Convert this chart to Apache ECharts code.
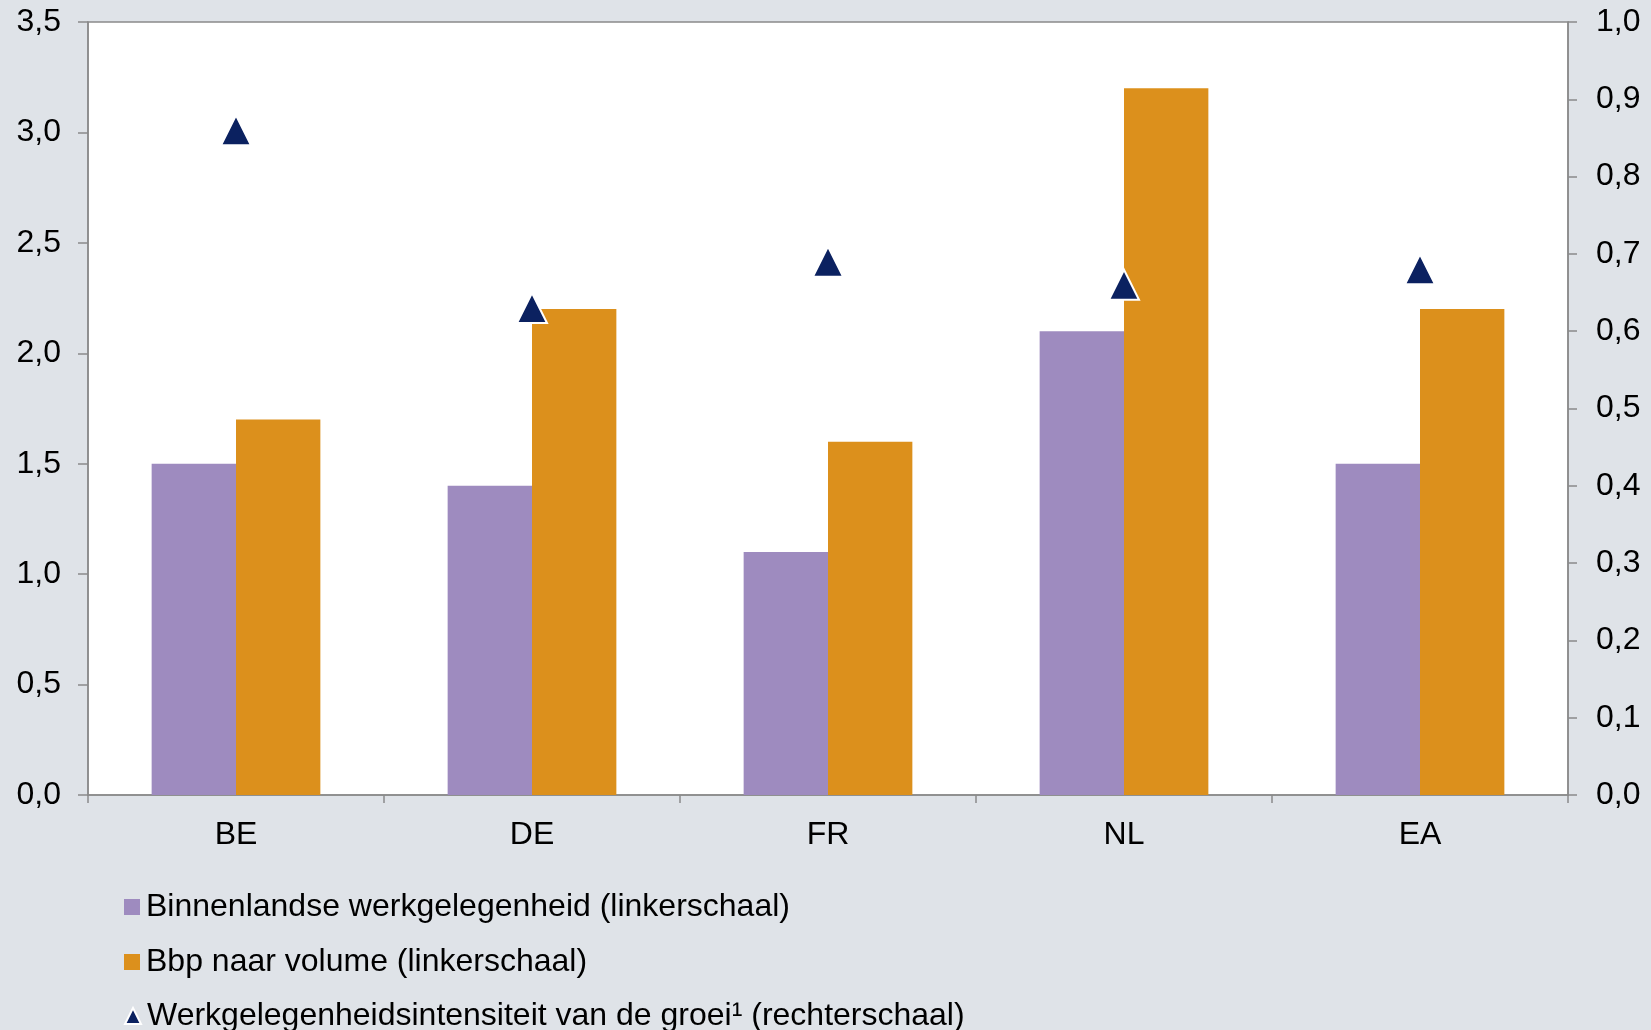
<!DOCTYPE html>
<html>
<head>
<meta charset="utf-8">
<script src="https://cdn.jsdelivr.net/npm/echarts@6/dist/echarts.min.js"></script>
<style>
  html, body { margin: 0; padding: 0; background: #dfe3e8; }
  #chart { width: 1651px; height: 1030px; }
</style>
</head>
<body>
<div id="chart"></div>
<script>
// Countries on the category axis
const categories = ['BE', 'DE', 'FR', 'NL', 'EA'];

// Left scale (%): domestic employment and GDP volume growth
const werkgelegenheid = [1.5, 1.4, 1.1, 2.1, 1.5];
const bbpVolume = [1.7, 2.2, 1.6, 3.2, 2.2];

// Right scale: employment intensity of growth
const intensiteit = [0.86, 0.63, 0.69, 0.66, 0.68];

// Series names shown in the legend
const seriesNames = [
  'Binnenlandse werkgelegenheid (linkerschaal)',
  'Bbp naar volume (linkerschaal)',
  'Werkgelegenheidsintensiteit van de groei\u00b9 (rechterschaal)'
];
const legendIcons = ['rect', 'rect', 'triangle'];

const axisGray = '#8a8a8a';
const fontFamily = 'Liberation Sans, Arial, sans-serif';
const commaFmt = v => v.toFixed(1).replace('.', ',');

// One legend block per row so the three entries stack in a single column
const legendTops = [891, 946, 1000];
const legends = seriesNames.map((name, i) => ({
  orient: 'vertical',
  left: 124, top: legendTops[i],
  itemWidth: 16, itemHeight: 16,
  padding: 0,
  textStyle: { fontSize: 32, color: '#000', fontFamily: fontFamily, padding: [0, 0, 0, 1] },
  data: [{ name: name, icon: legendIcons[i] }]
}));

const chart = echarts.init(document.getElementById('chart'));
chart.setOption({
  backgroundColor: '#dfe3e8',
  animation: false,
  textStyle: { fontFamily: fontFamily, color: '#000' },
  grid: {
    left: 88, right: 83, top: 22, bottom: 235,
    show: true, backgroundColor: '#ffffff',
    borderColor: axisGray, borderWidth: 1.5
  },
  legend: legends,
  xAxis: {
    type: 'category',
    data: categories,
    axisLine: { lineStyle: { color: axisGray, width: 1.5 } },
    axisTick: { show: true, length: 8, lineStyle: { color: axisGray, width: 1.5 } },
    axisLabel: { fontSize: 32, color: '#000', margin: 24 }
  },
  yAxis: [
    {
      type: 'value', min: 0, max: 3.5, interval: 0.5,
      axisLine: { show: true, lineStyle: { color: axisGray, width: 1.5 } },
      axisTick: { show: true, length: 10, lineStyle: { color: axisGray, width: 1.5 } },
      splitLine: { show: false },
      axisLabel: { fontSize: 32, color: '#000', margin: 27, formatter: commaFmt }
    },
    {
      type: 'value', min: 0, max: 1.0, interval: 0.1,
      axisLine: { show: true, lineStyle: { color: axisGray, width: 1.5 } },
      axisTick: { show: true, length: 9, lineStyle: { color: axisGray, width: 1.5 } },
      splitLine: { show: false },
      axisLabel: { fontSize: 32, color: '#000', margin: 28, formatter: commaFmt }
    }
  ],
  series: [
    {
      name: seriesNames[0], type: 'bar', yAxisIndex: 0,
      data: werkgelegenheid,
      barGap: '0%', barCategoryGap: '43%',
      itemStyle: { color: '#9e8bbf' }
    },
    {
      name: seriesNames[1], type: 'bar', yAxisIndex: 0,
      data: bbpVolume,
      barGap: '0%', barCategoryGap: '43%',
      itemStyle: { color: '#dc901c' }
    },
    {
      name: seriesNames[2], type: 'scatter', yAxisIndex: 1,
      data: intensiteit,
      symbol: 'triangle', symbolSize: 30,
      itemStyle: { color: '#0b2160', opacity: 1, borderColor: '#ffffff', borderWidth: 2 },
      z: 5
    }
  ]
});
</script>
</body>
</html>
